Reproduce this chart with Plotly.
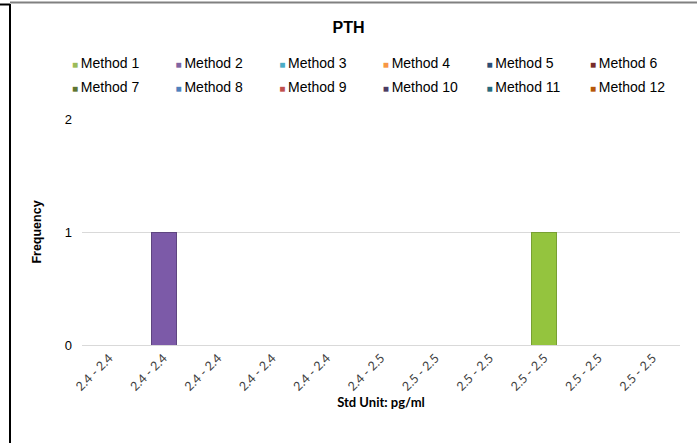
import plotly.graph_objects as go

# Bin labels along the x axis (several bins share the same rounded label)
bin_labels = ["2.4 - 2.4", "2.4 - 2.4", "2.4 - 2.4", "2.4 - 2.4", "2.4 - 2.4",
              "2.4 - 2.5", "2.5 - 2.5", "2.5 - 2.5", "2.5 - 2.5", "2.5 - 2.5", "2.5 - 2.5"]

methods = [f"Method {i}" for i in range(1, 13)]

# Frequency per bin for each method
freq_m1 = [0, 0, 0, 0, 0, 0, 0, 0, 1, 0, 0]
freq_m2 = [0, 1, 0, 0, 0, 0, 0, 0, 0, 0, 0]
freq_m3 = [0] * 11
freq_m4 = [0] * 11
freq_m5 = [0] * 11
freq_m6 = [0] * 11
freq_m7 = [0] * 11
freq_m8 = [0] * 11
freq_m9 = [0] * 11
freq_m10 = [0] * 11
freq_m11 = [0] * 11
freq_m12 = [0] * 11
frequencies = [freq_m1, freq_m2, freq_m3, freq_m4, freq_m5, freq_m6,
               freq_m7, freq_m8, freq_m9, freq_m10, freq_m11, freq_m12]

colors = ["#9BBB59", "#8064A2", "#4BACC6", "#F79646", "#2C4D75", "#772C2A",
          "#5F7530", "#4F81BD", "#C0504D", "#4D3B62", "#276A7C", "#B65708"]
edge_colors = ["#78A032", "#5E4580", "#3A8AA0", "#C8742F", "#1E3656", "#551E1C",
               "#445522", "#3A6395", "#983A38", "#372A47", "#1B4E5B", "#8A4206"]
bar_fill = {0: "#94C43E", 1: "#7C5AA8"}

x_pos = list(range(len(bin_labels)))

L, R, T, B = 82, 17, 119, 98
W, H = 697, 443
pw, ph = W - L - R, H - T - B


def xp(px):
    return (px - L) / pw


def yp(py):
    return (H - B - py) / ph


n_cols = 6
legend_ids = ["legend"] + [f"legend{k}" for k in range(2, n_cols + 1)]

fig = go.Figure()
for i, (name, vals) in enumerate(zip(methods, frequencies)):
    fig.add_trace(go.Bar(
        x=x_pos, y=vals, name=name, legendgroup=name, showlegend=False,
        marker=dict(color=bar_fill.get(i, colors[i]),
                    line=dict(color=edge_colors[i],
                              width=[1 if v > 0 else 0 for v in vals])),
    ))
    # legend entry: a small coloured square followed by the method name
    fig.add_trace(go.Scatter(
        x=[None], y=[None], mode="markers", legendgroup=name,
        legend=legend_ids[i % n_cols],
        name=(f"<span style='color:{colors[i]};font-size:10px'>\u25A0</span>"
              f"\u2009{name}"),
        marker=dict(size=0, color="rgba(0,0,0,0)", line=dict(width=0)),
    ))

frame = dict(xref="paper", yref="paper", type="line")
shapes = [
    dict(**frame, x0=xp(10), x1=xp(10), y0=yp(4), y1=yp(443),
         line=dict(color="#000000", width=2)),
    dict(**frame, x0=xp(0), x1=xp(10), y0=yp(4.5), y1=yp(4.5),
         line=dict(color="#000000", width=2)),
    dict(**frame, x0=xp(10), x1=xp(697), y0=yp(2.5), y1=yp(2.5),
         line=dict(color="#808080", width=2)),
]

legends = {}
for k, lid in enumerate(legend_ids):
    legends[lid] = dict(
        orientation="v", x=xp(32 + 103.6 * k), xanchor="left",
        y=yp(47), yanchor="top", itemwidth=30,
        traceorder="grouped", tracegroupgap=2.8,
        font=dict(family="Liberation Sans, Arial, sans-serif", size=14, color="#000000"),
        bgcolor="rgba(0,0,0,0)",
    )

fig.update_layout(
    width=W, height=H,
    margin=dict(l=L, r=R, t=T, b=B),
    paper_bgcolor="white", plot_bgcolor="white",
    barmode="stack", bargap=0.54,
    font=dict(family="Liberation Sans, Arial, sans-serif", size=12, color="#000000"),
    title=dict(text="<b>PTH</b>", x=0.5, xref="container", xanchor="center",
               y=1 - 27 / H, yref="container", yanchor="middle",
               font=dict(size=16, color="#000000")),
    shapes=shapes,
    showlegend=True,
    **legends,
)

fig.update_xaxes(
    range=[-0.5, len(bin_labels) - 0.5],
    tickmode="array", tickvals=x_pos, ticktext=bin_labels, tickangle=-45,
    tickfont=dict(family="Lato, Liberation Sans, sans-serif", size=12.5, color="#404040"),
    showgrid=False, showline=True, linecolor="#D9D9D9", linewidth=1,
    ticks="", zeroline=False,
    title=dict(text="<b>Std Unit: pg/ml</b>", standoff=5,
               font=dict(family="Lato, Liberation Sans, sans-serif", size=13, color="#000000")),
)
fig.update_yaxes(
    range=[0, 2.002], tickmode="array", tickvals=[0, 1, 2],
    tickfont=dict(size=13, color="#000000"),
    showgrid=True, gridcolor="#D9D9D9", gridwidth=1,
    zeroline=False, showline=False, ticks="", ticklabelstandoff=9,
    title=dict(text="<b>Frequency</b>", standoff=20,
               font=dict(size=12.5, color="#000000")),
)

fig.write_html("out.html")
